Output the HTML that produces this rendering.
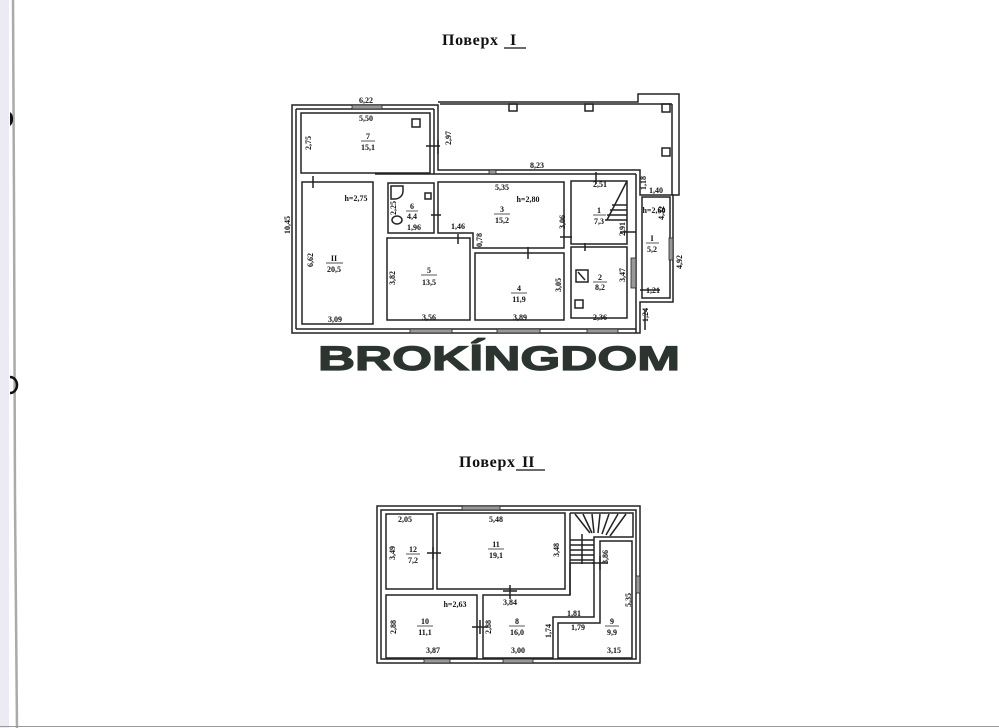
<!DOCTYPE html>
<html><head><meta charset="utf-8"><style>
html,body{margin:0;padding:0;background:#fff;}
svg{display:block}
text{font-family:"Liberation Serif",serif;fill:#111;}
.d{font-size:8px;text-anchor:middle;font-weight:bold}
</style></head><body>
<svg width="999" height="728" viewBox="0 0 999 728" xmlns="http://www.w3.org/2000/svg">
<rect x="0" y="0" width="999" height="728" fill="#fff"/>
<rect x="0" y="0" width="9" height="728" fill="#ecebf3"/>
<path d="M13 0 L14 200 L15 500 L17 728" stroke="#aaa" stroke-width="2.5" fill="none"/>
<path d="M10 112 a6 8 0 0 1 0 14z" fill="#111"/>
<path d="M10 377 a7 8 0 0 1 0 16" fill="none" stroke="#111" stroke-width="2.5"/>
<line x1="0" y1="726.5" x2="999" y2="726.5" stroke="#999" stroke-width="1"/>

<!-- titles -->
<text x="442" y="45" style="font-size:16px;font-weight:bold" textLength="56">Поверх</text>
<text x="510" y="45" style="font-size:16px;font-weight:bold">I</text>
<line x1="504" y1="48" x2="526" y2="48" stroke="#111" stroke-width="1.2"/>
<text x="459" y="467" style="font-size:16px;font-weight:bold" textLength="56">Поверх</text>
<text x="522" y="467" style="font-size:16px;font-weight:bold">II</text>
<line x1="516" y1="470" x2="545" y2="470" stroke="#111" stroke-width="1.2"/>

<g fill="none" stroke="#222" stroke-width="1.5">
<!-- veranda -->
<polyline points="438,102 638,102 638,94 679,94 679,195 672,195"/>
<line x1="672" y1="104" x2="672" y2="195"/>
<line x1="440" y1="104" x2="672" y2="104"/>
<rect x="509" y="104" width="8" height="7"/><rect x="585" y="104" width="8" height="7"/>
<rect x="662" y="104" width="8" height="8"/><rect x="662" y="148" width="8" height="8"/>
<!-- outer main -->
<polygon points="292,105 438,105 438,170 640,170 640,195 673,195 673,302 640,302 640,333 292,333"/>
<line x1="375" y1="174" x2="636" y2="174"/>
<line x1="636" y1="174" x2="636" y2="333"/>
<line x1="296" y1="329" x2="636" y2="329"/>
<line x1="296" y1="109" x2="296" y2="329"/>
<line x1="296" y1="109" x2="434" y2="109"/>
<line x1="434" y1="109" x2="434" y2="174"/>
<!-- rooms -->
<rect x="301" y="113" width="129" height="60"/>
<rect x="302" y="182" width="71" height="142"/>
<rect x="388" y="183" width="46" height="50"/>
<polygon points="438,182 564,182 564,248 473,248 473,233 438,233"/>
<rect x="387" y="238" width="83" height="82"/>
<rect x="475" y="253" width="89" height="67"/>
<rect x="571" y="181" width="56" height="63"/>
<rect x="571" y="247" width="56" height="71"/>
<rect x="642" y="197" width="28" height="101"/>
<!-- stairs -->
<line x1="607" y1="220" x2="627" y2="181"/>
<line x1="612" y1="205" x2="627" y2="205"/><line x1="610" y1="210" x2="627" y2="210"/><line x1="607" y1="215" x2="627" y2="215"/><line x1="605" y1="220" x2="627" y2="220"/>
<rect x="576" y="270" width="12" height="12"/><path d="M578 272 L585 280"/>
<rect x="575" y="300" width="8" height="8"/>
<rect x="412" y="119" width="8" height="8"/>
<path d="M391 186 h12 v5 a8 8 0 0 1 -8 8 h-4z"/>
<rect x="425" y="193" width="6" height="6"/>
<ellipse cx="397" cy="220" rx="5" ry="4"/>
<!-- door ticks -->
<path d="M426 146 h14 M438 140 v14 M313 176 v12 M431 215 h10 M596 172 v12 M528 247 v12 M620 232 h16 M585 243 v8 M560 237 h12 M458 234 v10 M645 330 v-20 M640 290 h20"/>
</g>
<!-- windows -->
<g fill="#999" stroke="#222" stroke-width="0.8">
<rect x="352" y="105" width="30" height="4"/>
<rect x="410" y="329" width="42" height="4"/>
<rect x="497" y="329" width="43" height="4"/>
<rect x="587" y="329" width="31" height="4"/>
<rect x="669" y="238" width="4" height="22"/>
<rect x="631" y="258" width="5" height="30"/>
<rect x="489" y="170" width="7" height="4"/>
</g>

<g class="d">
<text x="366" y="103">6,22</text><text x="366" y="121">5,50</text>
<text x="368" y="139">7</text><line x1="361" y1="141" x2="375" y2="141" stroke="#111" stroke-width=".7"/><text x="368" y="150">15,1</text>
<text transform="translate(311,143) rotate(-90)">2,75</text>
<text transform="translate(451,138) rotate(-90)">2,97</text>
<text x="537" y="168">8,23</text><text x="502" y="190">5,35</text>
<text x="356" y="201">h=2,75</text><text x="528" y="202">h=2,80</text>
<text x="600" y="187">2,51</text>
<text transform="translate(646,183) rotate(-90)">1,18</text>
<text x="656" y="193">1,40</text><text x="654" y="213">h=2,60</text>
<text x="412" y="209">6</text><line x1="406" y1="211" x2="418" y2="211" stroke="#111" stroke-width=".7"/><text x="412" y="219">4,4</text>
<text transform="translate(396,208) rotate(-90)">2,25</text>
<text x="414" y="230">1,96</text>
<text x="502" y="212">3</text><line x1="494" y1="214" x2="510" y2="214" stroke="#111" stroke-width=".7"/><text x="502" y="223">15,2</text>
<text transform="translate(565,222) rotate(-90)">3,06</text>
<text x="458" y="229">1,46</text>
<text transform="translate(482,240) rotate(-90)">0,78</text>
<text x="599" y="213">1</text><line x1="593" y1="215" x2="606" y2="215" stroke="#111" stroke-width=".7"/><text x="599" y="224">7,3</text>
<text transform="translate(625,229) rotate(-90)">2,91</text>
<text transform="translate(664,213) rotate(-90)">4,32</text>
<text x="652" y="241">I</text><line x1="646" y1="243" x2="659" y2="243" stroke="#111" stroke-width=".7"/><text x="652" y="252">5,2</text>
<text transform="translate(682,262) rotate(-90)">4,92</text>
<text x="334" y="261">II</text><line x1="326" y1="263" x2="343" y2="263" stroke="#111" stroke-width=".7"/><text x="334" y="272">20,5</text>
<text transform="translate(313,260) rotate(-90)">6,62</text>
<text transform="translate(290,225) rotate(-90)">10,45</text>
<text x="429" y="273">5</text><line x1="421" y1="275" x2="437" y2="275" stroke="#111" stroke-width=".7"/><text x="429" y="285">13,5</text>
<text transform="translate(395,278) rotate(-90)">3,82</text>
<text x="519" y="291">4</text><line x1="511" y1="293" x2="527" y2="293" stroke="#111" stroke-width=".7"/><text x="519" y="302">11,9</text>
<text transform="translate(561,285) rotate(-90)">3,05</text>
<text x="600" y="280">2</text><line x1="593" y1="282" x2="607" y2="282" stroke="#111" stroke-width=".7"/><text x="600" y="290">8,2</text>
<text transform="translate(625,275) rotate(-90)">3,47</text>
<text x="653" y="293">1,21</text>
<text transform="translate(648,315) rotate(-90)">1,24</text>
<text x="335" y="322">3,09</text><text x="429" y="320">3,56</text><text x="520" y="320">3,89</text><text x="600" y="320">2,36</text>
</g>

<!-- logo -->
<text x="318" y="370" textLength="362" lengthAdjust="spacingAndGlyphs" style="font-family:'Liberation Sans',sans-serif;font-weight:bold;font-size:34px;fill:#2c3430;stroke:#2c3430;stroke-width:1.2">BROKĺNGDOM</text>

<!-- second floor -->
<g fill="none" stroke="#222" stroke-width="1.5">
<rect x="377" y="506" width="263" height="157"/>
<rect x="381" y="510" width="255" height="149"/>
<rect x="386" y="514" width="47" height="75"/>
<rect x="437" y="513" width="128" height="76"/>
<rect x="386" y="595" width="91" height="63"/>
<polygon points="483,595 570,595 570,563 594,563 594,617 553,617 553,658 483,658"/>
<polygon points="600,541 632,541 632,658 558,658 558,623 600,623"/>
<polyline points="570,513 633,513 633,537 594,537 594,563"/>
<line x1="570" y1="513" x2="570" y2="595"/>
<path d="M575 514 L590 533 M583 514 L592 533 M592 514 L594 533 M600 514 L598 533 M609 514 L602 534 M618 514 L606 535 M626 514 L610 536 M570 540 h24 M570 545 h24 M570 550 h24 M570 555 h24 M570 560 h24 M582 534 v30"/>
<path d="M427 553 h14 M433 547 v12 M503 591 h14 M510 585 v14 M472 627 h16 M480 620 v14 M592 563 h16 M600 556 v14"/>
</g>
<g fill="#999" stroke="#222" stroke-width="0.8">
<rect x="462" y="506" width="38" height="4"/>
<rect x="424" y="659" width="26" height="4"/>
<rect x="503" y="659" width="30" height="4"/>
<rect x="636" y="576" width="4" height="17"/>
</g>
<g class="d">
<text x="405" y="522">2,05</text><text x="496" y="522">5,48</text>
<text transform="translate(395,553) rotate(-90)">3,49</text>
<text x="413" y="552">12</text><line x1="406" y1="554" x2="420" y2="554" stroke="#111" stroke-width=".7"/><text x="413" y="563">7,2</text>
<text x="496" y="547">11</text><line x1="488" y1="549" x2="504" y2="549" stroke="#111" stroke-width=".7"/><text x="496" y="558">19,1</text>
<text transform="translate(559,550) rotate(-90)">3,48</text>
<text x="510" y="605">3,84</text>
<text transform="translate(608,557) rotate(-90)">3,86</text>
<text transform="translate(631,600) rotate(-90)">5,35</text>
<text x="455" y="607">h=2,63</text><text x="574" y="616">1,81</text>
<text x="425" y="624">10</text><line x1="417" y1="626" x2="433" y2="626" stroke="#111" stroke-width=".7"/><text x="425" y="635">11,1</text>
<text transform="translate(396,627) rotate(-90)">2,88</text>
<text transform="translate(491,627) rotate(-90)">2,88</text>
<text x="517" y="624">8</text><line x1="509" y1="626" x2="525" y2="626" stroke="#111" stroke-width=".7"/><text x="517" y="635">16,0</text>
<text transform="translate(551,631) rotate(-90)">1,74</text>
<text x="578" y="630">1,79</text>
<text x="612" y="624">9</text><line x1="605" y1="626" x2="619" y2="626" stroke="#111" stroke-width=".7"/><text x="612" y="635">9,9</text>
<text x="433" y="653">3,87</text><text x="518" y="653">3,00</text><text x="614" y="653">3,15</text>
</g>
</svg>
</body></html>
